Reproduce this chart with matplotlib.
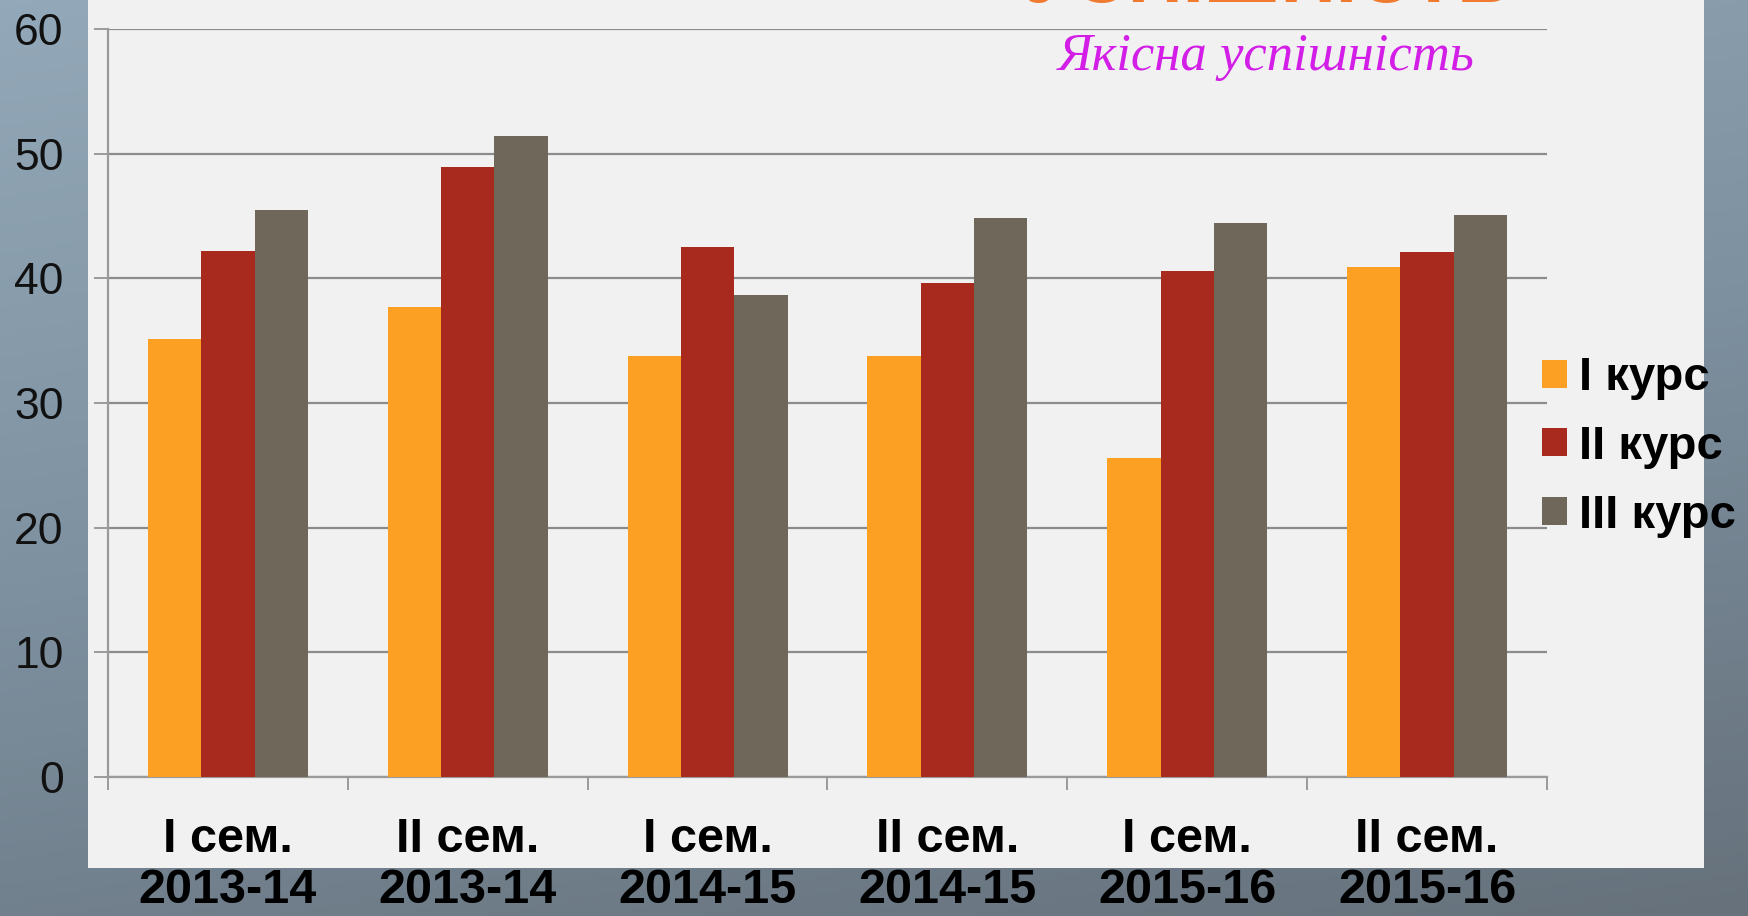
import numpy as np
import matplotlib.pyplot as plt
from matplotlib.patches import Rectangle
from matplotlib.colors import LinearSegmentedColormap

# дані: якісна успішність, %
semesters = ['I сем.\n2013-14', 'II сем.\n2013-14', 'I сем.\n2014-15',
             'II сем.\n2014-15', 'I сем.\n2015-16', 'II сем.\n2015-16']
kurs_1 = [35.1, 37.7, 33.8, 33.8, 25.6, 40.9]
kurs_2 = [42.2, 48.9, 42.5, 39.6, 40.6, 42.1]
kurs_3 = [45.5, 51.4, 38.7, 44.8, 44.4, 45.1]
series_names = ['I курс', 'II курс', 'III курс']
colors = ['#fca024', '#a82a1e', '#6f675a']
yticks = [0, 10, 20, 30, 40, 50, 60]

W, H = 1748, 916
fig = plt.figure(figsize=(W / 100, H / 100), dpi=100)

# фон слайда + біла панель
bg = fig.add_axes([0, 0, 1, 1], zorder=-5)
bg.set_xlim(0, W)
bg.set_ylim(H, 0)
bg.axis('off')
cmap = LinearSegmentedColormap.from_list('bg', ['#93a8b8', '#7d909f', '#66717b'])
yy, xx = np.mgrid[0:1:200j, 0:1:200j]
bg.imshow(0.75 * yy + 0.25 * xx, cmap=cmap, extent=(0, W, H, 0), aspect='auto')
bg.add_patch(Rectangle((88, 0), 1704 - 88, 868, facecolor='#f1f1f1', edgecolor='none'))

ax = fig.add_axes([108 / W, 1 - 777 / H, (1547 - 108) / W, (777 - 29) / H])
ax.set_facecolor('none')

x = np.arange(len(semesters))
w = 0.2225
for i, (vals, c, name) in enumerate(zip([kurs_1, kurs_2, kurs_3], colors, series_names)):
    ax.bar(x + (i - 1) * w, vals, w, color=c, label=name, zorder=3)

ax.set_xlim(-0.5, len(semesters) - 0.5)
ax.set_ylim(0, 60)
ax.set_yticks(yticks)
ax.grid(axis='y', color='#8c8c8c', linewidth=1.6, zorder=1)
ax.tick_params(axis='y', length=10, width=1.4, color='#9a9a9a', pad=22,
               labelsize=32, labelcolor='#111111')
for lab in ax.get_yticklabels():
    lab.set_fontfamily('Liberation Sans')

ax.set_xticks(np.arange(-0.5, len(semesters)), minor=False)
ax.set_xticklabels([])
ax.set_xticks(x, minor=True)
ax.set_xticklabels(semesters, minor=True, fontsize=35, fontweight='bold',
                   family=['Liberation Sans Narrow', 'Liberation Sans'],
                   linespacing=1.15)
ax.tick_params(axis='x', which='major', length=9.5, width=1.4, color='#9a9a9a')
ax.tick_params(axis='x', which='minor', length=0, pad=29)

for s in ['top', 'right']:
    ax.spines[s].set_visible(False)
for s in ['left', 'bottom']:
    ax.spines[s].set_color('#9a9a9a')
    ax.spines[s].set_linewidth(1.6)

leg = ax.legend(loc='center left', bbox_to_anchor=(1542 / W, 1 - 447 / H),
                bbox_transform=fig.transFigure, frameon=False,
                prop={'family': 'Liberation Sans', 'weight': 'bold', 'size': 34},
                handlelength=0.53, handleheight=0.53, handletextpad=0.25,
                labelspacing=0.52, borderpad=0, borderaxespad=0)

# заголовок (обрізаний зверху, як на слайді) і підзаголовок
fig.text(1270 / W, 1 - 2 / H, 'УСПІШНІСТЬ', color='#f07a30', fontsize=55,
         fontweight='bold', ha='center', va='baseline', family='Liberation Sans')
fig.text(1266 / W, 1 - 70 / H, 'Якісна успішність', color='#d21ee6', fontsize=38,
         style='italic', ha='center', va='baseline', family='Liberation Serif')

fig.savefig('out.png', dpi=100)
